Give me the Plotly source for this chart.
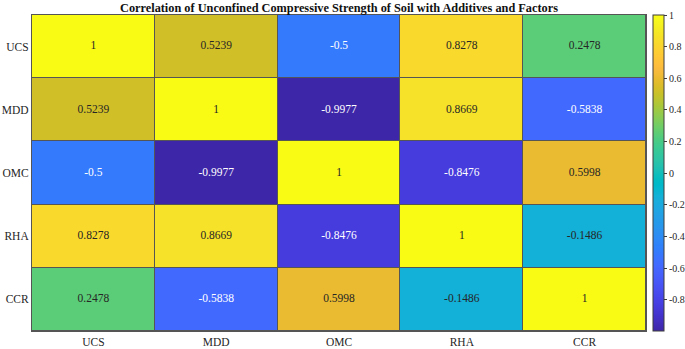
import plotly.graph_objects as go

labels = ["UCS", "MDD", "OMC", "RHA", "CCR"]
ucs = [1, 0.5239, -0.5, 0.8278, 0.2478]
mdd = [0.5239, 1, -0.9977, 0.8669, -0.5838]
omc = [-0.5, -0.9977, 1, -0.8476, 0.5998]
rha = [0.8278, 0.8669, -0.8476, 1, -0.1486]
ccr = [0.2478, -0.5838, 0.5998, -0.1486, 1]
cbar_ticks = [1, 0.8, 0.6, 0.4, 0.2, 0, -0.2, -0.4, -0.6, -0.8]
title = "Correlation of Unconfined Compressive Strength of Soil with Additives and Factors"

z = [ucs, mdd, omc, rha, ccr]

parula64 = [
    (0.2422, 0.1504, 0.6603), (0.2504, 0.1650, 0.7076), (0.2578, 0.1818, 0.7511), (0.2647, 0.1978, 0.7952),
    (0.2706, 0.2147, 0.8364), (0.2751, 0.2342, 0.8710), (0.2783, 0.2559, 0.8991), (0.2803, 0.2782, 0.9221),
    (0.2813, 0.3006, 0.9414), (0.2810, 0.3228, 0.9579), (0.2795, 0.3447, 0.9717), (0.2760, 0.3667, 0.9829),
    (0.2699, 0.3892, 0.9906), (0.2602, 0.4123, 0.9952), (0.2440, 0.4358, 0.9988), (0.2206, 0.4603, 0.9973),
    (0.1963, 0.4847, 0.9892), (0.1834, 0.5074, 0.9798), (0.1786, 0.5289, 0.9682), (0.1764, 0.5499, 0.9520),
    (0.1687, 0.5703, 0.9359), (0.1540, 0.5902, 0.9218), (0.1460, 0.6091, 0.9079), (0.1380, 0.6276, 0.8973),
    (0.1248, 0.6459, 0.8883), (0.1113, 0.6635, 0.8763), (0.0952, 0.6798, 0.8598), (0.0689, 0.6948, 0.8394),
    (0.0297, 0.7082, 0.8163), (0.0036, 0.7203, 0.7917), (0.0067, 0.7312, 0.7660), (0.0433, 0.7411, 0.7394),
    (0.0964, 0.7500, 0.7120), (0.1408, 0.7584, 0.6842), (0.1717, 0.7670, 0.6554), (0.1938, 0.7758, 0.6251),
    (0.2161, 0.7843, 0.5923), (0.2470, 0.7918, 0.5567), (0.2906, 0.7973, 0.5188), (0.3406, 0.8008, 0.4789),
    (0.3909, 0.8029, 0.4354), (0.4456, 0.8024, 0.3909), (0.5044, 0.7993, 0.3480), (0.5616, 0.7942, 0.3045),
    (0.6174, 0.7876, 0.2612), (0.6720, 0.7793, 0.2227), (0.7242, 0.7698, 0.1910), (0.7738, 0.7598, 0.1646),
    (0.8203, 0.7498, 0.1535), (0.8634, 0.7406, 0.1596), (0.9035, 0.7330, 0.1774), (0.9393, 0.7288, 0.2100),
    (0.9728, 0.7298, 0.2394), (0.9956, 0.7434, 0.2371), (0.9970, 0.7659, 0.2199), (0.9952, 0.7893, 0.2028),
    (0.9892, 0.8136, 0.1885), (0.9813, 0.8386, 0.1760), (0.9724, 0.8639, 0.1642), (0.9651, 0.8901, 0.1537),
    (0.9610, 0.9174, 0.1425), (0.9597, 0.9446, 0.1298), (0.9628, 0.9718, 0.1148), (0.9769, 0.9839, 0.0805),
]
n = len(parula64)
colorscale = [[i / (n - 1), "rgb(%d,%d,%d)" % tuple(round(c * 255) for c in col)] for i, col in enumerate(parula64)]

flat = [v for row in z for v in row]
zmin, zmax = min(flat), max(flat)

font_family = "Liberation Serif, Times New Roman, serif"
txt_color = "#262626"

fig = go.Figure()
fig.add_trace(go.Heatmap(
    z=z, x=labels, y=labels,
    colorscale=colorscale, zmin=zmin, zmax=zmax,
    xgap=1, ygap=1, hoverinfo="skip",
    colorbar=dict(
        x=1.011, xanchor="left", xpad=0, ypad=0,
        y=0.5, yanchor="middle", len=1.0, lenmode="fraction",
        thickness=11, outlinecolor="#3c3c3c", outlinewidth=1,
        tickvals=cbar_ticks, ticktext=["%g" % t for t in cbar_ticks],
        ticks="outside", ticklen=3, tickcolor="#3c3c3c",
        tickfont=dict(family=font_family, size=10, color=txt_color),
    ),
))

# cell value labels
xs, ys, texts, colors = [], [], [], []
for r, row in enumerate(z):
    for c, v in enumerate(row):
        xs.append(labels[c]); ys.append(labels[r])
        texts.append("%.4g" % v)
        colors.append("white" if v < -0.3 else "#262626")
fig.add_trace(go.Scatter(
    x=xs, y=ys, mode="text", text=texts,
    textfont=dict(family=font_family, size=11.5, color=colors),
    hoverinfo="skip", showlegend=False,
))

fig.update_layout(
    width=685, height=349,
    margin=dict(l=32, r=39, t=15, b=18, autoexpand=False),
    paper_bgcolor="white", plot_bgcolor="#555555",
    title=dict(text="<b>%s</b>" % title, x=(32 + 646) / 2 / 685, xanchor="center",
               y=1 - 7.5 / 349, yanchor="middle",
               font=dict(family=font_family, size=12.3, color="#111111")),
    xaxis=dict(type="category", showgrid=False, zeroline=False, ticks="", automargin=False,
               tickfont=dict(family=font_family, size=11.5, color=txt_color),
               showline=True, mirror=True, linecolor="#555555", linewidth=1),
    yaxis=dict(type="category", showgrid=False, zeroline=False, ticks="", automargin=False,
               autorange="reversed",
               tickfont=dict(family=font_family, size=11.5, color=txt_color),
               showline=True, mirror=True, linecolor="#555555", linewidth=1),
)

fig.write_html("out.html", config={"displayModeBar": False},
               post_script="document.body.style.margin='0px';document.body.style.overflow='hidden';")
